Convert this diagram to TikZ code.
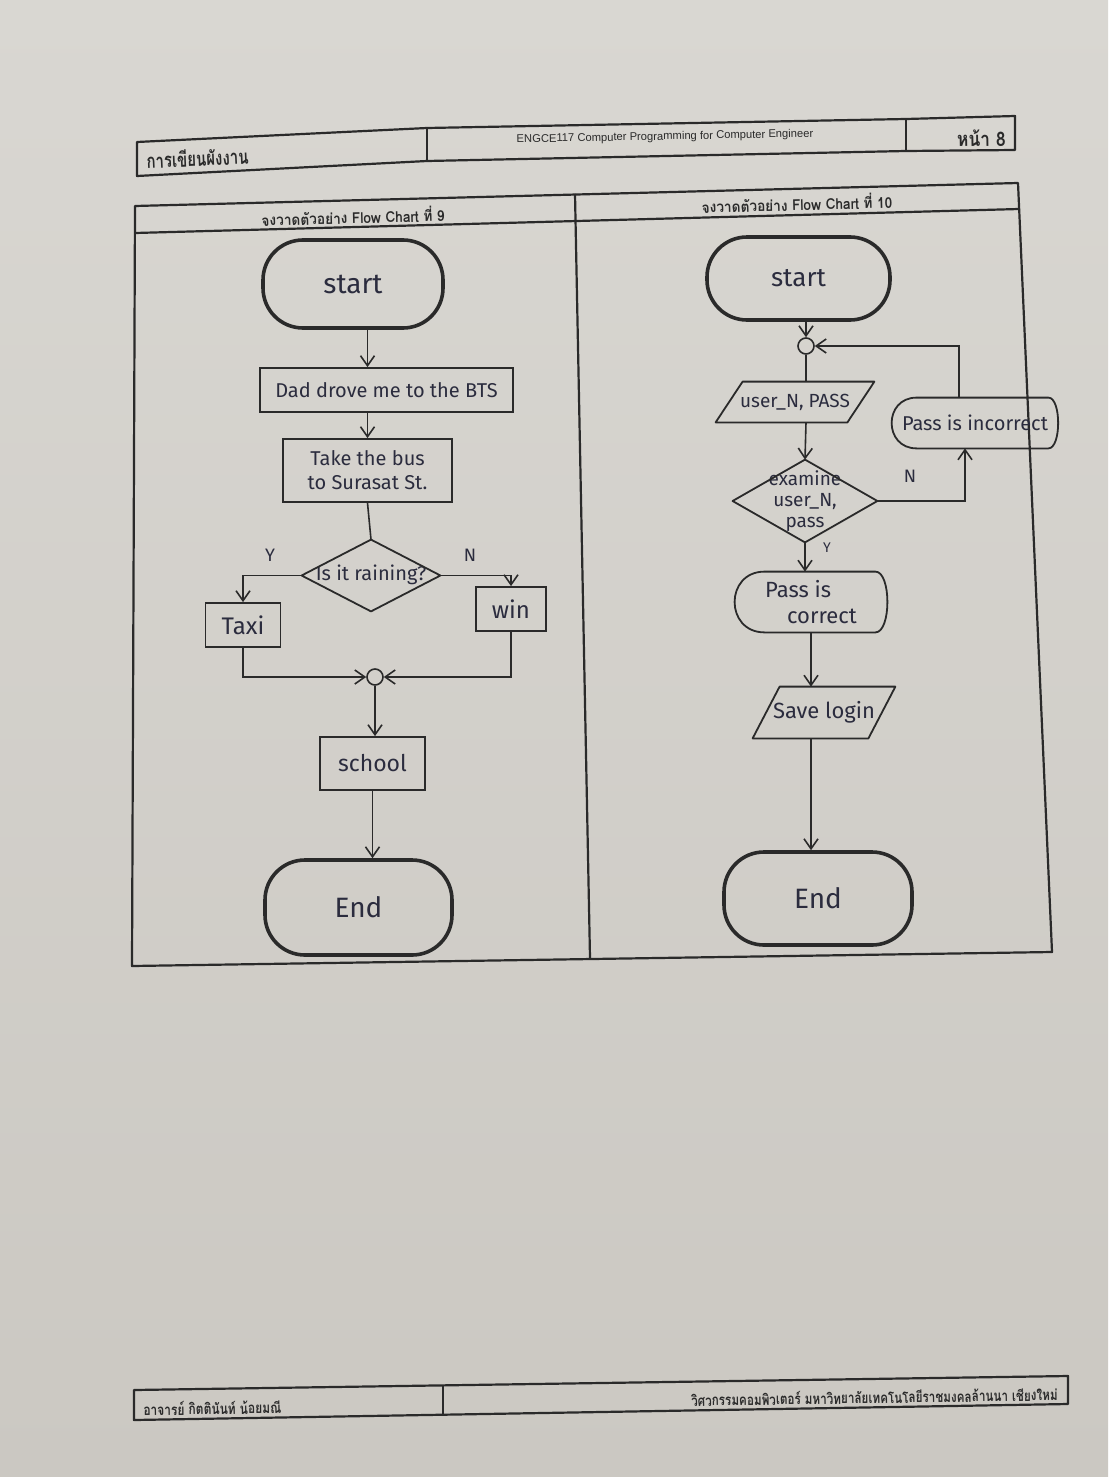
\documentclass[tikz,border=0pt]{standalone}
\usepackage{fontspec}
\setmainfont{Fira Sans}
\newfontfamily\thai[Script=Thai]{Loma}
\newfontfamily\lat{Liberation Sans}
\usetikzlibrary{arrows.meta,calc}
\definecolor{paper}{HTML}{D9D7D2}
\definecolor{paperlow}{HTML}{CBC8C2}
\definecolor{ink}{HTML}{2A2A2A}
\definecolor{pen}{HTML}{2B2C3E}
\tikzset{
  frame/.style={draw=ink, line width=1.1pt, line join=round},
  term/.style={draw=ink, line width=1.8pt, rounded corners=20pt, inner sep=0pt, text=pen, font=\fontsize{14}{16}\selectfont},
  procbox/.style={draw=ink, line width=0.9pt, inner sep=0pt, text=pen, font=\fontsize{10}{12}\selectfont, align=center},
  slot/.style={inner sep=0pt, text=pen, font=\fontsize{10}{12}\selectfont, align=center},
  shp/.style={draw=ink, line width=0.9pt, line join=round},
  ln/.style={draw=ink, line width=0.8pt},
  arr/.style={ln, -{Straight Barb[length=5pt,width=7pt]}},
  joint/.style={circle, draw=ink, line width=0.8pt, minimum size=8pt, inner sep=0pt},
  lbl/.style={text=pen, font=\fontsize{9}{10}\selectfont, inner sep=0pt},
  thaititle/.style={font=\thai\bfseries\fontsize{7.5}{9}\selectfont, text=ink, inner sep=0pt},
}
\begin{document}
\begin{tikzpicture}[x=0.5pt,y=-0.5pt]
\shade[top color=paper, bottom color=paperlow] (0,0) rectangle (1108,1477);
\useasboundingbox (0,0) rectangle (1108,1477);

% ---------- header ----------
\draw[frame] (137,142) -- (427,128) -- (906,119) -- (1015,116) -- (1015,150) -- (906,151) -- (427,161) -- (137,176) -- cycle;
\draw[frame] (427,128) -- (427,161);
\draw[frame] (906,119) -- (906,151);
\node[font=\thai\bfseries\fontsize{10}{12}\selectfont, text=ink, anchor=west, rotate=2.5, inner sep=0pt] (htitle) at (146,160) {\scalebox{0.75}[1]{การเขียนผังงาน}};
\node[font=\lat\fontsize{5.6}{7}\selectfont, text=ink, rotate=1.1, inner sep=0pt] (hcourse) at (665,137) {ENGCE117 Computer Programming for Computer Engineer};
\node[font=\thai\bfseries\fontsize{10}{12}\selectfont, text=ink, anchor=east, rotate=0.8, inner sep=0pt] (hpage) at (1006,138) {\scalebox{0.87}[1]{หน้า 8}};

% ---------- main frame ----------
\draw[frame] (135,206) -- (1018,183) -- (1052,952) -- (132,966) -- cycle;
\draw[frame] (135,233) -- (1019,209);
\draw[frame] (575,194) -- (590,958);
\node[thaititle, rotate=1.5] (t9) at (353,216) {\scalebox{0.91}[1]{จงวาดตัวอย่าง Flow Chart ที่ 9}};
\node[thaititle, rotate=1.5] (t10) at (797,203) {\scalebox{0.91}[1]{จงวาดตัวอย่าง Flow Chart ที่ 10}};

% ---------- flow chart 9 ----------
\node[term, minimum width=90pt, minimum height=44pt] (s1) at (353,284) {start};
\node[procbox, minimum width=126.5pt, minimum height=22pt] (b1) at (386.5,390) {Dad drove me to the BTS};
\node[procbox, minimum width=84.5pt, minimum height=31.5pt] (b2) at (367.5,470.5) {Take the bus\\to Surasat St.};
\node[slot, minimum width=69pt, minimum height=35.5pt, font=\fontsize{10}{12}\selectfont] (dia) at (371,575.5) {\raisebox{3pt}{Is it raining?}};
\draw[shp] (dia.north) -- (dia.east) -- (dia.south) -- (dia.west) -- cycle;
\node[procbox, minimum width=37.5pt, minimum height=22pt, font=\fontsize{12}{14}\selectfont] (taxi) at (243,625) {Taxi};
\node[procbox, minimum width=35pt, minimum height=22pt, font=\fontsize{12}{14}\selectfont] (win) at (511,609) {win};
\node[joint] (j1) at (375,677) {};
\node[procbox, minimum width=52.5pt, minimum height=26.5pt, font=\fontsize{11.5}{14}\selectfont] (school) at (372.5,763.5) {school};
\node[term, minimum width=93.5pt, minimum height=47.5pt] (e1) at (358.5,907.5) {End};
\node[lbl] (y1) at (270,555) {Y};
\node[lbl] (n1) at (470,555) {N};

\draw[arr] (s1.south -| b2.north) -- (b1.north -| b2.north);
\draw[arr] (b1.south -| b2.north) -- (b2.north);
\draw[ln] (b2.south) -- (dia.north);
\draw[arr] (dia.west) -| (taxi.north);
\draw[arr] (dia.east) -| (win.north);
\draw[arr] (taxi.south) |- (j1.west);
\draw[arr] (win.south) |- (j1.east);
\draw[arr] (j1.south) -- (j1.south |- school.north);
\draw[arr] (school.south) -- (school.south |- e1.north);

% ---------- flow chart 10 ----------
\node[term, minimum width=91.5pt, minimum height=41.5pt, font=\fontsize{13}{15}\selectfont] (s2) at (798.5,278.5) {start};
\node[joint] (j2) at (806,346) {};
\node[slot, minimum width=79pt, minimum height=20pt, font=\fontsize{9.5}{11}\selectfont] (inp) at (795,402) {user\_N, PASS};
\draw[shp] (inp.south west) -- ($(inp.north west)+(27,0)$) -- (inp.north east) -- ($(inp.south east)+(-27,0)$) -- cycle;
\node[slot, minimum width=72pt, minimum height=41pt, font=\fontsize{9.5}{10.5}\selectfont] (dia2) at (805,501) {examine\\user\_N,\\pass};
\draw[shp] (dia2.north) -- (dia2.east) -- (dia2.south) -- (dia2.west) -- cycle;
\node[slot, minimum width=83pt, minimum height=25pt] (inc) at (975,423) {Pass is incorrect};
\draw[shp] ($(inc.north west)+(25,0)$) -- ($(inc.north east)+(-10,0)$)
  .. controls ($(inc.north east)+(3,0)$) and ($(inc.south east)+(3,0)$) .. ($(inc.south east)+(-10,0)$)
  -- ($(inc.south west)+(25,0)$)
  .. controls ($(inc.south west)+(-8.3,0)$) and ($(inc.north west)+(-8.3,0)$) .. cycle;
\node[slot, minimum width=76pt, minimum height=30pt, align=left, font=\fontsize{11}{13}\selectfont] (cor) at (811,602) {Pass is\\\hspace*{1em}correct};
\draw[shp] ($(cor.north west)+(30,0)$) -- ($(cor.north east)+(-12,0)$)
  .. controls ($(cor.north east)+(4,0)$) and ($(cor.south east)+(4,0)$) .. ($(cor.south east)+(-12,0)$)
  -- ($(cor.south west)+(30,0)$)
  .. controls ($(cor.south west)+(-10,0)$) and ($(cor.north west)+(-10,0)$) .. cycle;
\node[slot, minimum width=71pt, minimum height=25.5pt, font=\fontsize{11}{13}\selectfont] (save) at (824,712.5) {Save login};
\draw[shp] (save.south west) -- ($(save.north west)+(27,0)$) -- (save.north east) -- ($(save.south east)+(-27,0)$) -- cycle;
\node[term, minimum width=94pt, minimum height=46.5pt] (e2) at (818,898.5) {End};
\node[lbl] (n2) at (910,476) {N};
\node[lbl, font=\fontsize{7}{8}\selectfont] (y2) at (827,548) {Y};

\draw[arr] (s2.south -| j2.north) -- (j2.north);
\draw[ln] (j2.south) -- (j2.south |- inp.north);
\draw[arr] (j2.south |- inp.south) -- (dia2.north);
\draw[arr] (dia2.east) -| ([xshift=-5pt]inc.south);
\draw[arr] ([xshift=-8pt]inc.north) |- (j2.east);
\draw[arr] (dia2.south) -- (dia2.south |- cor.north);
\draw[arr] (cor.south) -- (cor.south |- save.north);
\draw[arr] (save.south -| cor.south) -- (cor.south |- e2.north);

% ---------- footer ----------
\draw[frame] (134,1390) -- (1068,1376) -- (1068,1404) -- (134,1420) -- cycle;
\draw[frame] (443,1386) -- (443,1415);
\node[font=\thai\bfseries\fontsize{7.5}{9}\selectfont, text=ink, anchor=west, rotate=0.9, inner sep=0pt] (fname) at (143,1409) {\scalebox{0.8}[1]{อาจารย์ กิตตินันท์ น้อยมณี}};
\node[font=\thai\bfseries\fontsize{7.5}{9}\selectfont, text=ink, anchor=east, rotate=0.9, inner sep=0pt] (fschool) at (1058,1394) {\scalebox{0.78}[1]{วิศวกรรมคอมพิวเตอร์ มหาวิทยาลัยเทคโนโลยีราชมงคลล้านนา เชียงใหม่}};
\end{tikzpicture}
\end{document}
